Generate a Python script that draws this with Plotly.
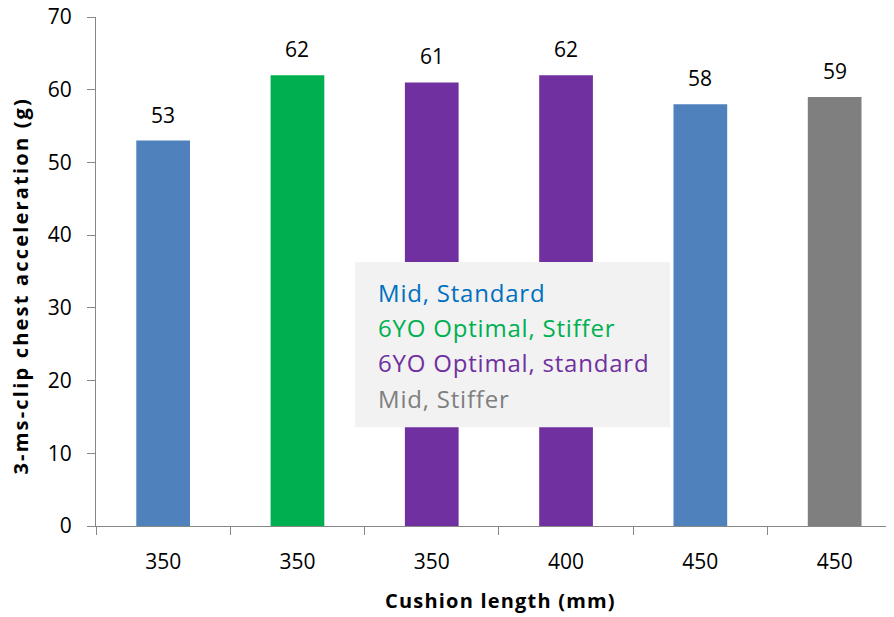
import plotly.graph_objects as go

categories = ["350", "350", "350", "400", "450", "450"]
values = [53, 62, 61, 62, 58, 59]
bar_colors = ["#4F81BD", "#00B050", "#7030A0", "#7030A0", "#4F81BD", "#7F7F7F"]
legend_lines = ["Mid, Standard", "6YO Optimal, Stiffer", "6YO Optimal, standard", "Mid, Stiffer"]
legend_colors = ["#0070C0", "#00B050", "#7030A0", "#7F7F7F"]
y_ticks = [0, 10, 20, 30, 40, 50, 60, 70]
x_title = "Cushion length (mm)"
y_title = "3-ms-clip chest acceleration (g)"

FONT = "Open Sans"
W, H = 894, 617
OFF = 8  # the page body adds an 8px margin; work in page pixels
L = 96 - OFF
T = 17.3 - OFF
BOT = 525.7 - OFF
B = H - BOT
R = OFF
PW, PH = W - L - R, BOT - T

def px_x(px):
    return (px - OFF - L) / PW

def px_y(py):
    return (BOT - (py - OFF)) / PH

def spaced(txt, ls):
    return f'<span style="letter-spacing:{ls}px">{txt}</span>'

idx = list(range(len(categories)))

fig = go.Figure()
fig.add_trace(go.Bar(
    x=idx, y=values, marker=dict(color=bar_colors, line=dict(width=0)),
    width=0.4, showlegend=False, hoverinfo="skip",
))

for i, v in zip(idx, values):
    fig.add_annotation(x=i, y=v, text=str(v), showarrow=False, yanchor="middle",
                       yshift=26, font=dict(family=FONT, size=21, color="#000000"))

# legend-like text box
fig.add_shape(type="rect", xref="paper", yref="paper",
              x0=px_x(355), x1=px_x(670), y0=px_y(427), y1=px_y(262),
              fillcolor="#F2F2F2", line=dict(width=0), layer="above")
for k, (t, c) in enumerate(zip(legend_lines, legend_colors)):
    fig.add_annotation(xref="paper", yref="paper", x=px_x(376), y=px_y(292 + 35.3 * k),
                       xanchor="left", yanchor="middle", text=spaced(t, 0.8), showarrow=False,
                       font=dict(family=FONT, size=24, color=c))

# axis titles
fig.add_annotation(xref="paper", yref="paper", x=px_x(500.5), y=px_y(600),
                   xanchor="center", yanchor="middle", showarrow=False,
                   text="<b>" + spaced(x_title, 1.2) + "</b>",
                   font=dict(family=FONT, size=20, color="#000000"))
fig.add_annotation(xref="paper", yref="paper", x=px_x(21), y=px_y(285.5),
                   xanchor="center", yanchor="middle", showarrow=False, textangle=-90,
                   text="<b>" + spaced(y_title, 2.2) + "</b>",
                   font=dict(family=FONT, size=20, color="#000000"))

axis_color = "#878787"
fig.update_layout(
    width=W, height=H,
    margin=dict(l=L, r=R, t=T, b=B),
    plot_bgcolor="white", paper_bgcolor="white",
    font=dict(family=FONT, color="#000000"),
    xaxis=dict(
        range=[-0.5, -0.5 + PW / 134.3], tickmode="array", tickvals=idx, ticktext=categories,
        ticks="outside", ticklen=17, tickcolor="rgba(0,0,0,0)", automargin=False,
        ticklabeloverflow="allow",
        showline=True, linecolor=axis_color, linewidth=1, showgrid=False, zeroline=False,
        tickfont=dict(family=FONT, size=21, color="#000000"),
        minor=dict(tickmode="linear", tick0=-0.5, dtick=1, ticks="outside", ticklen=8,
                   tickcolor=axis_color, tickwidth=1, showgrid=False),
    ),
    yaxis=dict(
        range=[0, 70], tickmode="array", tickvals=y_ticks, automargin=False,
        ticklabeloverflow="allow",
        ticks="outside", ticklen=8, tickcolor=axis_color,
        showline=True, linecolor=axis_color, linewidth=1, showgrid=False, zeroline=False,
        tickfont=dict(family=FONT, size=21, color="#000000"),
        ticklabelstandoff=11,
    ),
)

fig.write_html("out.html")
